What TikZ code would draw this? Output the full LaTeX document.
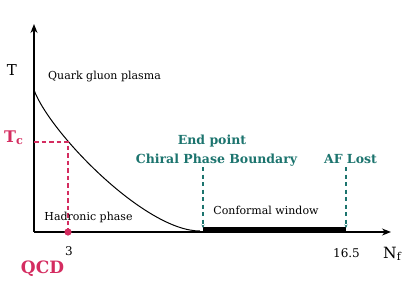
\documentclass[tikz,border=0pt]{standalone}
\usepackage{fontspec}
\setmainfont{DejaVu Serif}
\usetikzlibrary{arrows.meta}
\definecolor{qcdred}{RGB}{212,44,96}
\definecolor{cwteal}{RGB}{28,116,110}
\tikzset{
  lbl/.style={inner sep=0pt, anchor=base, font=\fontsize{11}{13}\selectfont},
  tlbl/.style={inner sep=0pt, anchor=base, text=cwteal, font=\bfseries\fontsize{12.5}{15}\selectfont},
  axis/.style={line width=1.3pt, -{Stealth[length=9pt,width=7pt]}},
  reddash/.style={qcdred, line width=1.3pt, dash pattern=on 4.5pt off 3pt},
  tealdash/.style={cwteal, line width=1.3pt, dash pattern=on 4pt off 3.5pt, -{Stealth[length=3.5pt,width=3pt]}},
}
\begin{document}
\begin{tikzpicture}[x=1pt,y=-1pt]
\useasboundingbox (0,0) rectangle (415,282);
% axes
\coordinate (O) at (34,232);
\coordinate (ytop) at (34,24);
\coordinate (xend) at (391,232);
\coordinate (start) at (34,90);
\coordinate (cwL) at (203,229.5);
\coordinate (cwR) at (346,229.5);
\coordinate (tcY) at (34,142);
\coordinate (tcP) at (68,142);
\coordinate (qcdP) at (68,232);
% thick conformal window bar
\draw[line width=5pt] (cwL) -- (cwR);
\draw[axis] (O) -- (ytop);
\draw[axis] (O) -- (xend);
% curve
\draw[line width=1pt] (start) .. controls (50,133) and (145,231) .. (200,231);
% QCD dashed
\draw[reddash] (tcY) -- (tcP) -- (qcdP);
\fill[qcdred] (qcdP) circle (3.6pt);
% teal dashed arrows
\coordinate (epTop) at (203,167);
\coordinate (epBot) at (203,228);
\coordinate (afTop) at (346,167);
\coordinate (afBot) at (346,228);
\draw[tealdash] (epTop) -- (epBot);
\draw[tealdash] (afTop) -- (afBot);
% labels
\node[inner sep=0pt, anchor=base] (T) at (12,75) {\fontsize{15}{17}\selectfont$\mathrm{T}$};
\node[inner sep=0pt, anchor=base west] (Nf) at (383,258) {\fontsize{15.5}{17}\selectfont$\mathrm{N_f}$};
\node[inner sep=0pt, anchor=base west, text=qcdred] (Tc) at (4,142) {\bfseries\fontsize{16}{18}\selectfont T\textsubscript{c}};
\node[lbl] (qgp) at (104.5,79) {Quark gluon plasma};
\node[lbl] (had) at (88.5,220) {Hadronic phase};
\node[lbl] (cw) at (266,214) {Conformal window};
\node[lbl, font=\fontsize{12}{14}\selectfont] (three) at (69,255) {3};
\node[lbl, font=\fontsize{12}{14}\selectfont] (af) at (346.5,257) {16.5};
\node[inner sep=0pt, anchor=base, text=qcdred, font=\bfseries\fontsize{17}{19}\selectfont] (qcd) at (42.5,273) {QCD};
\node[tlbl] (ep) at (212,144) {End point};
\node[tlbl] (cpb) at (216.5,163) {Chiral Phase Boundary};
\node[tlbl] (afl) at (350.5,163) {AF Lost};
\end{tikzpicture}
\end{document}
